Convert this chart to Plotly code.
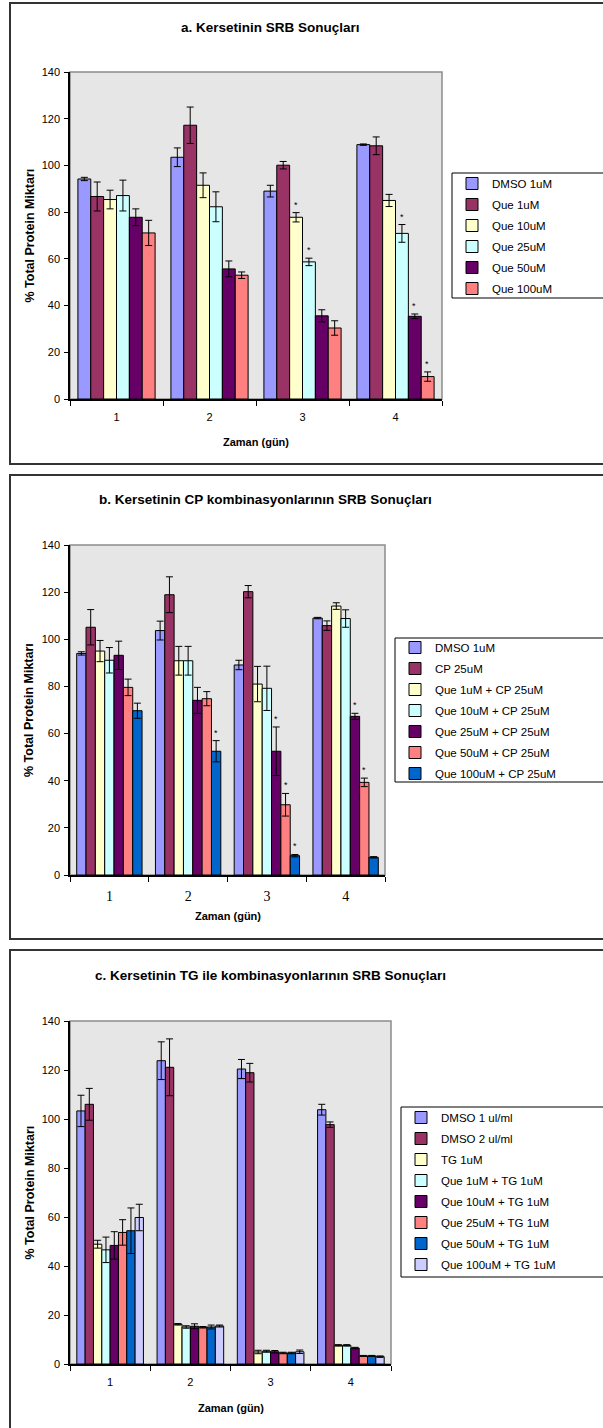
import plotly.graph_objects as go

# ---------------- DATA ----------------
days = ["1", "2", "3", "4"]

# Panel a
a_names = ["DMSO 1uM", "Que 1uM", "Que 10uM", "Que 25uM", "Que 50uM", "Que 100uM"]
a_vals = [
    [94.2, 103.5, 89.0, 108.9],
    [86.7, 117.2, 100.1, 108.4],
    [85.4, 91.5, 77.8, 85.0],
    [87.1, 82.3, 58.7, 70.9],
    [77.8, 55.7, 35.6, 35.4],
    [71.1, 53.0, 30.4, 9.6],
]
a_errs = [
    [0.7, 4.0, 2.5, 0.3],
    [6.2, 7.8, 1.6, 3.8],
    [4.0, 5.3, 2.0, 2.6],
    [6.6, 6.4, 1.6, 3.8],
    [3.6, 3.4, 2.6, 1.0],
    [5.4, 1.4, 3.1, 2.0],
]
a_stars = [(2, 2), (2, 3), (3, 3), (3, 4), (3, 5)]  # (day index, series index)

# Panel b
b_names = ["DMSO 1uM", "CP 25uM", "Que 1uM + CP 25uM", "Que 10uM + CP 25uM",
           "Que 25uM + CP 25uM", "Que 50uM + CP 25uM", "Que 100uM + CP 25uM"]
b_vals = [
    [94.0, 103.7, 89.1, 109.0],
    [105.1, 118.9, 120.2, 105.8],
    [95.0, 90.9, 81.0, 114.1],
    [91.1, 90.9, 79.2, 108.8],
    [93.2, 74.1, 52.5, 67.3],
    [79.6, 74.8, 29.8, 39.3],
    [69.7, 52.5, 8.2, 7.5],
]
b_errs = [
    [0.7, 4.0, 2.0, 0.3],
    [7.5, 7.6, 2.6, 2.0],
    [4.5, 6.1, 7.5, 1.4],
    [5.4, 6.1, 9.4, 3.7],
    [6.0, 5.5, 10.3, 1.3],
    [3.5, 3.0, 4.8, 1.8],
    [3.2, 4.5, 0.5, 0.3],
]
b_stars = [(1, 6), (2, 4), (2, 5), (2, 6), (3, 4), (3, 5)]

# Panel c
c_names = ["DMSO 1 ul/ml", "DMSO 2 ul/ml", "TG 1uM", "Que 1uM + TG 1uM",
           "Que 10uM + TG 1uM", "Que 25uM + TG 1uM", "Que 50uM + TG 1uM",
           "Que 100uM + TG 1uM"]
c_vals = [
    [103.3, 123.8, 120.4, 103.8],
    [106.0, 121.1, 118.9, 97.7],
    [48.9, 16.2, 4.9, 7.6],
    [46.6, 15.1, 5.2, 7.6],
    [48.4, 15.4, 5.0, 6.5],
    [53.7, 15.0, 4.5, 3.3],
    [54.4, 15.1, 4.5, 3.3],
    [59.8, 15.5, 5.0, 3.0],
]
c_errs = [
    [6.4, 7.7, 3.9, 2.2],
    [6.5, 11.6, 3.8, 1.1],
    [1.6, 0.3, 0.7, 0.3],
    [5.2, 0.5, 0.4, 0.3],
    [5.6, 1.0, 0.5, 0.3],
    [5.2, 0.3, 0.3, 0.2],
    [9.3, 0.8, 0.3, 0.2],
    [5.4, 0.4, 0.7, 0.3],
]

y_ticks = [0, 20, 40, 60, 80, 100, 120, 140]

titles = ["a. Kersetinin SRB Sonuçları",
          "b. Kersetinin CP kombinasyonlarının SRB Sonuçları",
          "c. Kersetinin TG ile kombinasyonlarının SRB Sonuçları"]
x_title = "Zaman (gün)"
y_title = "% Total Protein Miktarı"

colors_a = ["#9999FF", "#993366", "#FFFFCC", "#CCFFFF", "#660066", "#FF8080"]
colors_b = ["#9999FF", "#993366", "#FFFFCC", "#CCFFFF", "#660066", "#FF8080", "#0066CC"]
colors_c = ["#9999FF", "#993366", "#FFFFCC", "#CCFFFF", "#660066", "#FF8080", "#0066CC", "#CCCCFF"]

# ---------------- LAYOUT HELPERS ----------------
W, H = 603, 1428
FONT = "Liberation Sans, Arial, sans-serif"
SERIF = "Liberation Serif, Times New Roman, serif"


def px_x(p):
    return p / W


def px_y(p):
    return 1 - p / H


panels = [
    dict(names=a_names, vals=a_vals, errs=a_errs, stars=a_stars, colors=colors_a,
         plot=(70, 442, 72, 399), title_xy=(270, 27), xt_y=442,
         legend_box=(452, 173, 298), legend_shift=4,
         bargap=0.186, tickfont=dict(family=FONT, size=11, color="black"),
         box=(10, 3, 464)),
    dict(names=b_names, vals=b_vals, errs=b_errs, stars=b_stars, colors=colors_b,
         plot=(70, 385, 545, 875), title_xy=(265, 500), xt_y=916,
         legend_box=(395, 638, 782), legend_shift=5,
         bargap=0.17, tickfont=dict(family=SERIF, size=14, color="black"),
         box=(10, 475, 939)),
    dict(names=c_names, vals=c_vals, errs=c_errs, stars=[], colors=colors_c,
         plot=(70, 391, 1021, 1364), title_xy=(270, 975), xt_y=1408,
         legend_box=(401, 1107, 1277), legend_shift=4,
         bargap=0.153, tickfont=dict(family=FONT, size=11, color="black"),
         box=(10, 950, 1440)),
]

fig = go.Figure()
annotations = []
shapes = []
layout_extra = {}

for k, p in enumerate(panels):
    suf = "" if k == 0 else str(k + 1)
    xa, ya = "x" + suf, "y" + suf
    lg = "legend" + suf
    for i, name in enumerate(p["names"]):
        fig.add_trace(go.Bar(
            x=days, y=p["vals"][i], name=name, xaxis=xa, yaxis=ya, legend=lg,
            legendgroup="%s_%d" % (lg, i),
            marker=dict(color=p["colors"][i], line=dict(color="black", width=1)),
            error_y=dict(type="data", array=p["errs"][i], color="black",
                         thickness=1, width=3.5),
        ))
    x0, x1, y0, y1 = p["plot"]
    layout_extra["xaxis" + suf] = dict(
        domain=[px_x(x0), px_x(x1)], anchor=ya, type="category",
        showline=True, linecolor="black", linewidth=1.5, ticks="outside",
        tickson="boundaries", ticklen=5, tickcolor="black", ticklabelstandoff=7,
        tickfont=p["tickfont"], showgrid=False, zeroline=False, fixedrange=True,
    )
    layout_extra["yaxis" + suf] = dict(
        domain=[px_y(y1), px_y(y0)], anchor=xa, range=[0, 140],
        tickvals=y_ticks, showline=True, linecolor="black", linewidth=1.5,
        ticks="outside", ticklen=4, tickcolor="black", ticklabelstandoff=2,
        tickfont=dict(family=FONT, size=11, color="black"),
        showgrid=False, zeroline=False, fixedrange=True,
    )
    lx, lt, lb = p["legend_box"]
    layout_extra[lg] = dict(
        x=px_x(lx), y=px_y(lt - p["legend_shift"]), xanchor="left", yanchor="top",
        bgcolor="rgba(0,0,0,0)", borderwidth=0,
        font=dict(family=FONT, size=11.5, color="black"),
        itemwidth=30, tracegroupgap=2,
    )
    # legend frame (runs off the right edge as in the original)
    shapes.append(dict(type="rect", xref="paper", yref="paper",
                       x0=px_x(lx), x1=1.05, y0=px_y(lb), y1=px_y(lt),
                       line=dict(color="black", width=1), fillcolor="white",
                       layer="below"))
    # plot-area border (grey) and background
    shapes.append(dict(type="rect", xref=xa + " domain", yref=ya + " domain",
                       x0=0, x1=1, y0=0, y1=1, line=dict(color="#8c8c8c", width=1.5),
                       fillcolor="#e6e6e6", layer="below"))
    # panel frame
    bx, bt, bb = p["box"]
    shapes.append(dict(type="rect", xref="paper", yref="paper",
                       x0=px_x(bx), x1=1.05, y0=px_y(bb), y1=px_y(bt),
                       line=dict(color="#333333", width=2), fillcolor="rgba(0,0,0,0)",
                       layer="below"))
    # titles
    annotations.append(dict(text="<b>%s</b>" % titles[k], xref="paper", yref="paper",
                            x=px_x(p["title_xy"][0]), y=px_y(p["title_xy"][1]),
                            showarrow=False, xanchor="center", yanchor="middle",
                            font=dict(family=FONT, size=13.5, color="black")))
    annotations.append(dict(text="<b>%s</b>" % x_title, xref=xa + " domain", yref="paper",
                            x=0.5, y=px_y(p["xt_y"]), showarrow=False,
                            xanchor="center", yanchor="middle",
                            font=dict(family=FONT, size=11, color="black")))
    annotations.append(dict(text="<b>%s</b>" % y_title, xref="paper", yref=ya + " domain",
                            x=px_x(29), y=0.5, showarrow=False, textangle=-90,
                            xanchor="center", yanchor="middle",
                            font=dict(family=FONT, size=12.5, color="black")))
    # significance asterisks
    n = len(p["names"])
    bw = (1 - p["bargap"]) / n
    for (gi, si) in p["stars"]:
        xc = gi - (1 - p["bargap"]) / 2 + bw * (si + 0.5)
        annotations.append(dict(text="*", xref=xa, yref=ya, x=xc,
                                y=p["vals"][si][gi] + p["errs"][si][gi],
                                showarrow=False, yanchor="bottom", yshift=1,
                                font=dict(family=FONT, size=9, color="black")))

fig.update_layout(
    width=W, height=H,
    margin=dict(l=0, r=0, t=0, b=0, autoexpand=False),
    paper_bgcolor="white", plot_bgcolor="rgba(0,0,0,0)",
    barmode="group", bargap=0.17, bargroupgap=0,
    showlegend=True, annotations=annotations, shapes=shapes,
    **layout_extra,
)

fig.write_html("out.html", config={"displayModeBar": False},
               post_script="document.body.style.margin='0px';document.body.style.overflow='hidden';")
